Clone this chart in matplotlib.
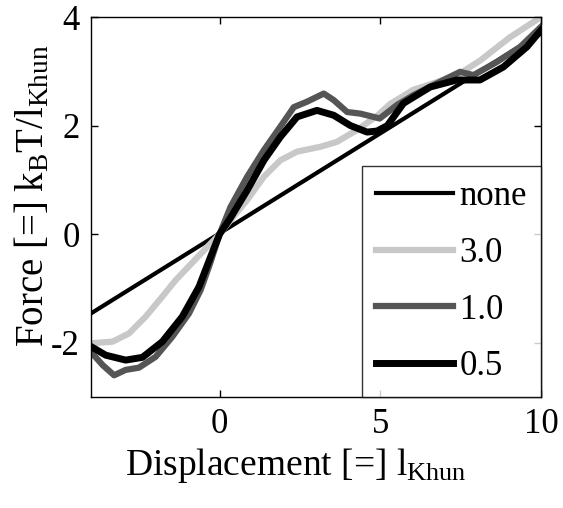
import numpy as np
import matplotlib.pyplot as plt

plt.rcParams['font.family'] = 'Liberation Serif'
plt.rcParams['mathtext.fontset'] = 'custom'
plt.rcParams['mathtext.rm'] = 'Liberation Serif'
plt.rcParams['mathtext.it'] = 'Liberation Serif:italic'
plt.rcParams['axes.unicode_minus'] = False

# force-displacement curves for each smoothing width
x_none = [-4, 10]
y_none = [-1.46, 3.7]

x_30 = [-4.0, -3.33, -2.82, -2.3, -1.78, -1.37, -0.68, 0.0, 0.4, 0.86, 1.38,
        1.89, 2.41, 3.14, 3.65, 4.28, 4.9, 5.31, 6.03, 6.76, 7.45, 8.11, 9.04,
        10.0]
y_30 = [-2.01, -1.98, -1.83, -1.52, -1.15, -0.85, -0.42, 0.0, 0.3, 0.63, 1.06,
        1.36, 1.52, 1.61, 1.70, 1.92, 2.18, 2.4, 2.66, 2.8, 2.95, 3.2, 3.63,
        4.0]

x_10 = [-4.0, -3.64, -3.28, -2.92, -2.51, -1.99, -1.47, -0.95, -0.59, -0.3,
        0.0, 0.34, 0.86, 1.38, 1.89, 2.31, 2.72, 3.24, 3.55, 3.97, 4.38, 4.79,
        4.98, 5.52, 6.03, 6.76, 7.48, 7.9, 8.62, 9.35, 10.0]
y_10 = [-2.17, -2.41, -2.6, -2.5, -2.46, -2.26, -1.89, -1.46, -1.03, -0.55,
        0.0, 0.5, 1.06, 1.55, 1.98, 2.34, 2.44, 2.59, 2.47, 2.25, 2.22, 2.16,
        2.13, 2.38, 2.56, 2.78, 2.99, 2.93, 3.17, 3.45, 3.82]

x_05 = [-4.0, -3.54, -2.92, -2.4, -1.78, -1.16, -0.64, -0.3, 0.0, 0.34, 0.86,
        1.38, 1.89, 2.41, 3.03, 3.55, 4.07, 4.59, 4.9, 5.22, 5.72, 6.55, 7.38,
        8.1, 8.83, 9.56, 10.0]
y_05 = [-2.07, -2.23, -2.32, -2.27, -1.98, -1.52, -0.97, -0.45, 0.0, 0.3, 0.81,
        1.36, 1.79, 2.16, 2.28, 2.19, 2.0, 1.88, 1.9, 2.0, 2.41, 2.71, 2.84,
        2.84, 3.08, 3.45, 3.76]

fig = plt.figure(figsize=(5.63, 5.08), dpi=100)
ax = fig.add_axes([0.1616, 0.2185, 0.7994, 0.748])

ax.plot(x_none, y_none, color='black', lw=3, label='none')
ax.plot(x_30, y_30, color='#c8c8c8', lw=4.5, label='3.0')
ax.plot(x_10, y_10, color='#555555', lw=4.5, label='1.0')
ax.plot(x_05, y_05, color='black', lw=5, label='0.5')

ax.set_xlim(-4, 10)
ax.set_ylim(-3, 4)
ax.set_xticks([0, 5, 10])
ax.set_yticks([-2, 0, 2, 4])
ax.tick_params(direction='in', top=True, right=True, length=5, width=1,
               labelsize=25, pad=8)
for s in ax.spines.values():
    s.set_linewidth(1)

ax.set_xlabel(r'Displacement [=] l$_{\mathrm{Khun}}$', fontsize=27)
ax.set_ylabel(r'Force [=] k$_{\mathrm{B}}$T/l$_{\mathrm{Khun}}$', fontsize=28)
ax.xaxis.set_label_coords(0.455, -0.13)
ax.yaxis.set_label_coords(-0.087, 0.53)

leg = ax.legend(loc='lower right', fontsize=25, frameon=True, fancybox=False,
                edgecolor='black', borderaxespad=0, handlelength=2.2,
                handletextpad=0.2, labelspacing=0.68, borderpad=0.4)
leg.get_frame().set_linewidth(1)

plt.savefig('out.png', dpi=100)
